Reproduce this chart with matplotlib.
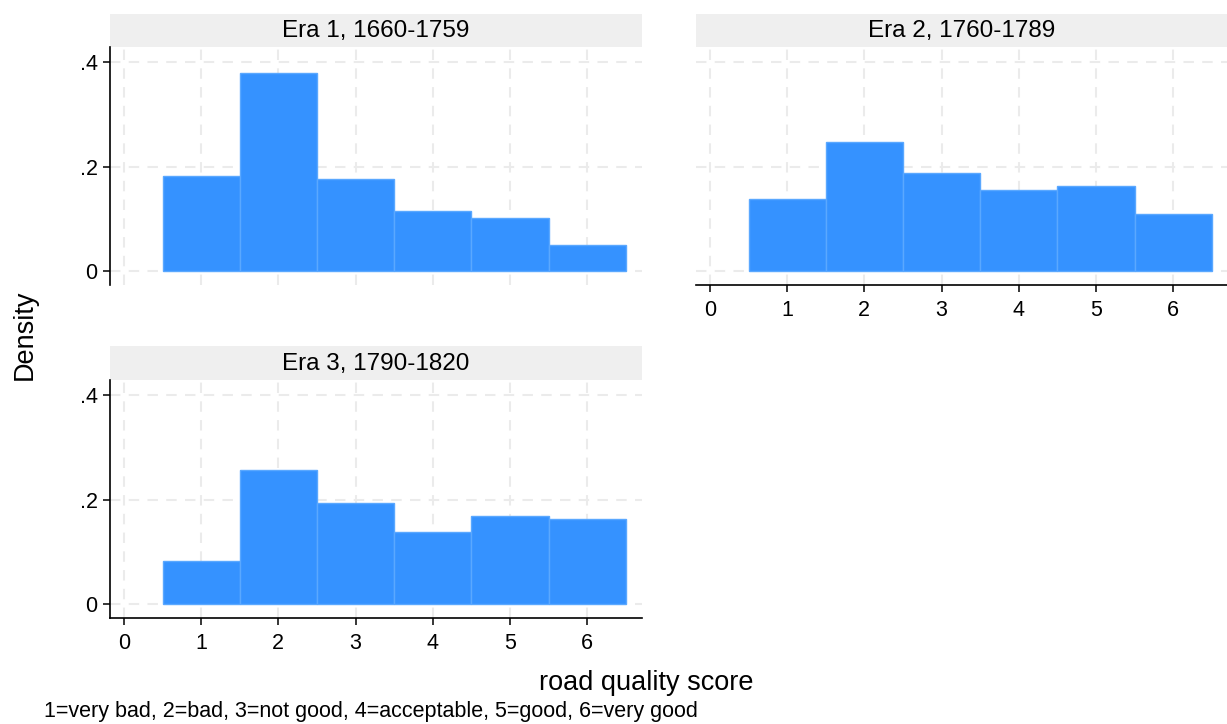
import matplotlib
matplotlib.use("Agg")
import matplotlib.pyplot as plt

plt.rcParams['font.family'] = ['Liberation Sans', 'DejaVu Sans']

scores = [1, 2, 3, 4, 5, 6]
era_titles = ["Era 1, 1660-1759", "Era 2, 1760-1789", "Era 3, 1790-1820"]
era1_density = [0.182, 0.379, 0.176, 0.115, 0.101, 0.050]
era2_density = [0.138, 0.247, 0.188, 0.155, 0.163, 0.109]
era3_density = [0.082, 0.256, 0.193, 0.138, 0.168, 0.163]
y_ticks = [0, 0.2, 0.4]
y_ticklabels = ["0", ".2", ".4"]
x_ticks = [0, 1, 2, 3, 4, 5, 6]

W, H = 1227, 724
fig = plt.figure(figsize=(W / 100, H / 100), dpi=100)

bar_color = "#3592ff"
edge_color = "#5aa8ff"
grid_color = "#ebebeb"


def px_box(x0, x1, y0, y1):
    return [x0 / W, 1 - y1 / H, (x1 - x0) / W, (y1 - y0) / H]


def panel(x0, x1, ystrip, ytop, ybot, title, dens, show_y, show_x):
    # strip header
    sax = fig.add_axes(px_box(x0, x1, ystrip, ytop))
    sax.set_facecolor("#efefef")
    sax.set_xticks([])
    sax.set_yticks([])
    for s in sax.spines.values():
        s.set_visible(False)
    sax.text(0.5, 0.47, title, ha="center", va="center", fontsize=17.5,
             transform=sax.transAxes)

    ax = fig.add_axes(px_box(x0, x1, ytop, ybot))
    ax.set_xlim(-0.18, 6.71)
    ax.set_ylim(-0.027, 0.429)
    for x in x_ticks:
        ax.axvline(x, color=grid_color, lw=1.5, ls=(0, (5, 4)), zorder=0)
    for y in y_ticks:
        ax.axhline(y, color=grid_color, lw=1.5, ls=(0, (5, 4)), zorder=0)
    ax.bar(scores, dens, width=1.0, color=bar_color, edgecolor=edge_color,
           linewidth=1.0, zorder=2)
    ax.spines["top"].set_visible(False)
    ax.spines["right"].set_visible(False)
    ax.spines["left"].set_visible(show_y)
    ax.spines["bottom"].set_visible(show_x)
    ax.spines["left"].set_linewidth(1.2)
    ax.spines["bottom"].set_linewidth(1.2)
    if show_y:
        ax.set_yticks(y_ticks)
        ax.set_yticklabels(y_ticklabels)
    else:
        ax.set_yticks([])
    if show_x:
        ax.set_xticks(x_ticks)
    else:
        ax.set_xticks([])
    ax.tick_params(axis="both", labelsize=15.5, length=5, width=1.1,
                   color="black")
    ax.tick_params(axis="x", pad=6)
    ax.tick_params(axis="y", pad=4)
    return ax


panel(110, 642, 14, 47, 285, era_titles[0], era1_density, True, False)
panel(696, 1228, 14, 47, 285, era_titles[1], era2_density, False, True)
panel(110, 642, 346, 380, 618, era_titles[2], era3_density, True, True)

fig.text(25 / W, 1 - 335 / H, "Density", rotation=90, ha="center",
         va="center", fontsize=19.5)
fig.text(646 / W, 1 - 683 / H, "road quality score", ha="center",
         va="center", fontsize=19.5)
fig.text(44 / W, 1 - 711 / H,
         "1=very bad, 2=bad, 3=not good, 4=acceptable, 5=good, 6=very good",
         ha="left", va="center", fontsize=15.5)

fig.savefig("out.png", dpi=100)
